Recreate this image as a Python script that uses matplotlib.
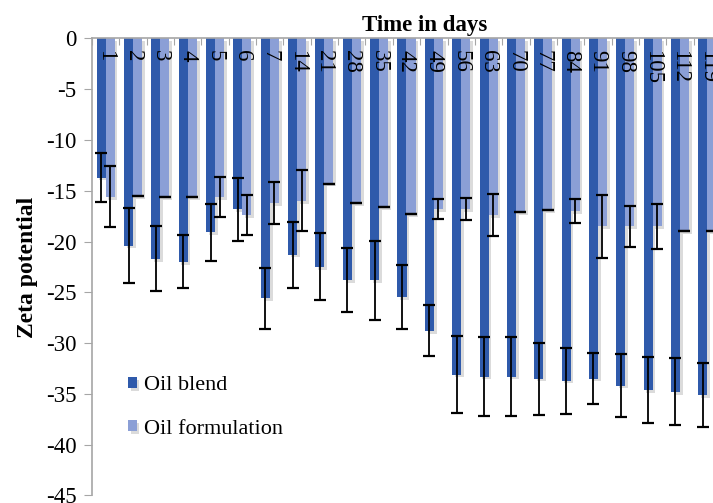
import numpy as np
import matplotlib.pyplot as plt
import matplotlib.patheffects as pe

plt.rcParams['font.family'] = ['Liberation Serif', 'DejaVu Serif']
plt.rcParams['axes.unicode_minus'] = False

# ----- Data ----- #
days = ['1', '2', '3', '4', '5', '6', '7', '14', '21', '28', '35', '42',
        '49', '56', '63', '70', '77', '84', '91', '98', '105', '112', '119']
oil_blend = [-13.7, -20.4, -21.7, -22.0, -19.1, -16.8, -25.6, -21.3, -22.5, -23.8, -23.8, -25.5,
             -28.8, -33.1, -33.3, -33.3, -33.5, -33.7, -33.5, -34.2, -34.6, -34.8, -35.1]
oil_blend_err = [2.4, 3.7, 3.2, 2.6, 2.8, 3.1, 3.0, 3.25, 3.3, 3.15, 3.9, 3.15,
                 2.5, 3.8, 3.85, 3.9, 3.55, 3.25, 2.55, 3.1, 3.25, 3.3, 3.15]
oil_form = [-15.6, -15.5, -15.6, -15.6, -15.6, -17.4, -16.2, -16.0, -14.3, -16.2, -16.6, -17.3,
            -16.8, -16.8, -17.4, -17.1, -16.9, -17.0, -18.5, -18.5, -18.5, -19.0, -19.0]
oil_form_err = [3.0, 0, 0, 0, 2.0, 2.0, 2.1, 3.0, 0, 0, 0, 0,
                1.0, 1.1, 2.1, 0, 0, 1.2, 3.1, 2.0, 2.2, 0, 0]
y_ticks = [0, -5, -10, -15, -20, -25, -30, -35, -40, -45]

# ----- Plot ----- #
fig = plt.figure(figsize=(7.13, 5.03), dpi=100)
ax = fig.add_axes([92/713, 7.7/503, 629/713, 456.8/503])

x = np.arange(len(days))
w = 0.33
shadow = [pe.SimplePatchShadow(offset=(2, -2), shadow_rgbFace='#999999', alpha=0.35), pe.Normal()]
err_kw = dict(ecolor='black', elinewidth=1.3, capsize=4.5, capthick=1.6)

b1 = ax.bar(x - w/2, oil_blend, w, color='#2f5aab', label='Oil blend',
            yerr=oil_blend_err, error_kw=err_kw, zorder=2)
b2 = ax.bar(x + w/2, oil_form, w, color='#8b9fd6', label='Oil formulation',
            yerr=oil_form_err, error_kw=err_kw, zorder=2)
for p in list(b1) + list(b2):
    p.set_path_effects(shadow)

# category labels inside the top of the bars
for i, d in enumerate(days):
    ax.text(i, -1.1, d, rotation=270, ha='center', va='top', fontsize=16.5, zorder=3)

ax.set_xlim(-0.5, len(days) - 0.5)
ax.set_ylim(-45, 0)
ax.set_yticks(y_ticks)
ax.set_yticklabels([str(t) for t in y_ticks], fontsize=16.5)
ax.set_xticks(np.arange(len(days) + 1) - 0.5)
ax.set_xticklabels([])
ax.xaxis.tick_top()
ax.tick_params(axis='x', direction='in', length=5, color='#a6a6a6')
ax.tick_params(axis='y', direction='out', length=6, color='#a6a6a6', pad=5)

for s in ['right', 'bottom']:
    ax.spines[s].set_visible(False)
for s in ['left', 'top']:
    ax.spines[s].set_color('#a6a6a6')
    ax.spines[s].set_linewidth(1.2)

fig.text(425/713, 1 - 25/503, 'Time in days', ha='center', va='center',
         fontsize=16.5, fontweight='bold')
ax.set_ylabel('Zeta potential', fontsize=17, fontweight='bold', labelpad=6)

ax.legend(loc='upper left', bbox_to_anchor=(0.04, 0.285), frameon=False, fontsize=16,
          handlelength=0.38, handleheight=0.38, handletextpad=0.35, labelspacing=1.1,
          borderpad=0)

fig.savefig('out.png', dpi=100)
